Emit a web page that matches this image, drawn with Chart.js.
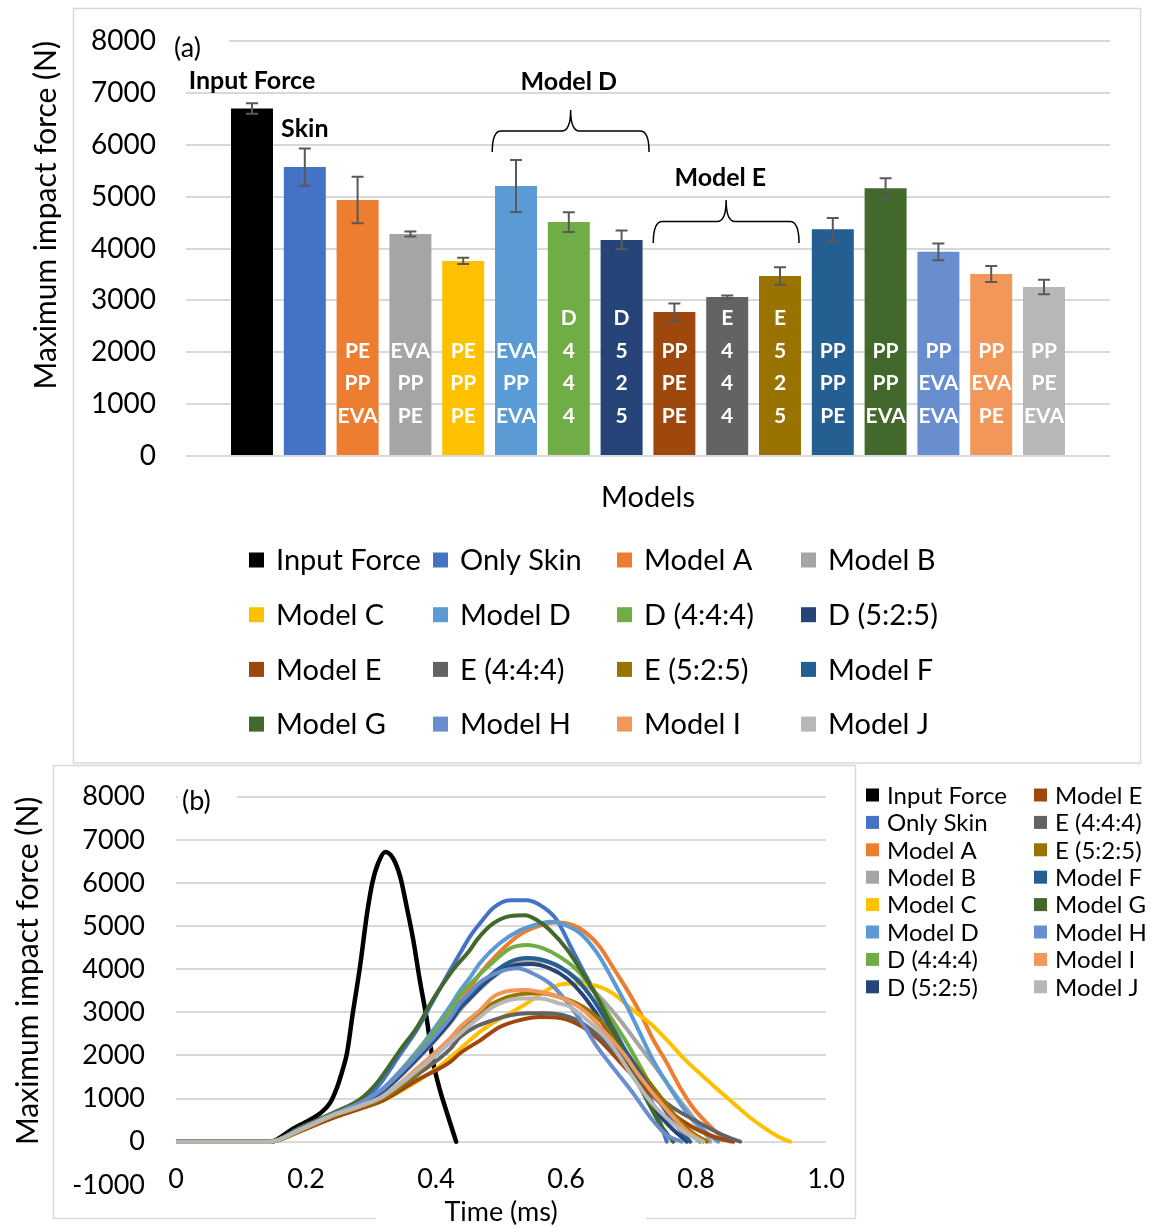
<!DOCTYPE html>
<html>
<head>
<meta charset="utf-8">
<title>Maximum impact force</title>
<script src="https://cdn.jsdelivr.net/npm/chart.js@4.4.1/dist/chart.umd.min.js"></script>
<style>
  html, body { margin: 0; padding: 0; background: #fff; }
  #wrap { position: relative; width: 1156px; height: 1228px; background: #fff; }
  #peak { position: absolute; left: 0; top: 0; }
  #trace { position: absolute; left: 0; top: 764px; }
</style>
</head>
<body>
<div id="wrap">
  <canvas id="peak" width="1156" height="764"></canvas>
  <canvas id="trace" width="1156" height="464"></canvas>
</div>
<script>
// ---------- data ----------
const categories = ['Input Force', 'Only Skin', 'Model A', 'Model B', 'Model C', 'Model D',
  'D (4:4:4)', 'D (5:2:5)', 'Model E', 'E (4:4:4)', 'E (5:2:5)', 'Model F',
  'Model G', 'Model H', 'Model I', 'Model J'];

// peak force (N) and its spread
const peakForce = [6700, 5570, 4935, 4280, 3760, 5205, 4510, 4165, 2775, 3065, 3470, 4370, 5160, 3935, 3510, 3260];
const peakError = [100, 360, 450, 50, 60, 500, 190, 180, 165, 30, 170, 220, 195, 160, 155, 140];

// layer stacks written inside each bar (top line first)
const layerLabels = [[], [], ['PE', 'PP', 'EVA'], ['EVA', 'PP', 'PE'], ['PE', 'PP', 'PE'], ['EVA', 'PP', 'EVA'],
  ['D', '4', '4', '4'], ['D', '5', '2', '5'], ['PP', 'PE', 'PE'], ['E', '4', '4', '4'], ['E', '5', '2', '5'],
  ['PP', 'PP', 'PE'], ['PP', 'PP', 'EVA'], ['PP', 'EVA', 'EVA'], ['PP', 'EVA', 'PE'], ['PP', 'PE', 'EVA']];

const seriesColors = ['#000000', '#4472C4', '#ED7D31', '#A5A5A5', '#FFC000', '#5B9BD5', '#70AD47', '#264478',
  '#9E480E', '#636363', '#997300', '#255E91', '#43682B', '#698ED0', '#F1975A', '#B7B7B7'];

const forceTicksA = [0, 1000, 2000, 3000, 4000, 5000, 6000, 7000, 8000];
const forceTicksB = [-1000, 0, 1000, 2000, 3000, 4000, 5000, 6000, 7000, 8000];
const timeTicks = [0, 0.2, 0.4, 0.6, 0.8, 1.0];
const timeTickLabels = ['0', '0.2', '0.4', '0.6', '0.8', '1.0'];

// force-time histories: [time (ms), force (N)]
const traceInput = [[0,0],[0.145,0],[0.180,300],[0.205,500],[0.222,660],[0.237,900],[0.248,1270],[0.256,1650],[0.263,2050],[0.272,2980],[0.283,4050],[0.294,5300],[0.302,6000],[0.311,6460],[0.322,6720],[0.334,6570],[0.345,6140],[0.355,5440],[0.365,4680],[0.375,3750],[0.386,2820],[0.395,1890],[0.406,1200],[0.417,660],[0.431,0]];
const traceSkin = [[0,0],[0.145,0],[0.191,310],[0.242,640],[0.283,920],[0.309,1250],[0.345,2030],[0.371,2600],[0.395,3250],[0.422,3980],[0.437,4370],[0.452,4750],[0.468,5070],[0.488,5420],[0.514,5600],[0.540,5600],[0.565,5440],[0.586,5140],[0.606,4560],[0.626,3980],[0.648,3360],[0.665,2900],[0.683,2350],[0.703,1730],[0.725,1130],[0.740,660],[0.755,0]];
const traceA = [[0,0],[0.145,0],[0.191,290],[0.242,610],[0.283,860],[0.318,1200],[0.371,2000],[0.422,2900],[0.437,3250],[0.452,3550],[0.468,3900],[0.498,4400],[0.529,4800],[0.560,5010],[0.586,5090],[0.611,5020],[0.632,4830],[0.652,4520],[0.672,4050],[0.694,3520],[0.714,2990],[0.734,2370],[0.755,1830],[0.775,1270],[0.795,800],[0.817,430],[0.837,150],[0.852,0]];
const traceB = [[0,0],[0.145,0],[0.191,280],[0.242,600],[0.283,850],[0.318,1150],[0.371,1900],[0.422,2750],[0.437,3050],[0.452,3300],[0.483,3750],[0.514,4080],[0.549,4200],[0.580,4120],[0.611,3850],[0.632,3620],[0.652,3360],[0.683,2820],[0.714,2200],[0.745,1580],[0.771,1040],[0.795,580],[0.811,270],[0.822,0]];
const traceC = [[0,0],[0.145,0],[0.191,250],[0.242,570],[0.283,770],[0.318,950],[0.371,1400],[0.406,1750],[0.437,2150],[0.468,2550],[0.498,2850],[0.514,2980],[0.540,3210],[0.580,3590],[0.606,3670],[0.630,3650],[0.652,3590],[0.672,3440],[0.703,3050],[0.729,2750],[0.755,2360],[0.780,1950],[0.806,1580],[0.832,1230],[0.857,900],[0.883,560],[0.909,280],[0.929,100],[0.945,0]];
const traceD = [[0,0],[0.145,0],[0.191,290],[0.242,630],[0.283,890],[0.318,1230],[0.371,2100],[0.422,3150],[0.437,3500],[0.452,3800],[0.468,4150],[0.498,4600],[0.529,4900],[0.560,5060],[0.575,5100],[0.591,5060],[0.622,4830],[0.648,4370],[0.672,3750],[0.694,3130],[0.714,2510],[0.734,1890],[0.755,1360],[0.775,900],[0.795,500],[0.817,200],[0.834,0]];
const traceD444 = [[0,0],[0.145,0],[0.191,290],[0.242,630],[0.283,880],[0.318,1220],[0.371,2050],[0.422,3050],[0.437,3400],[0.452,3650],[0.483,4100],[0.514,4480],[0.540,4560],[0.565,4480],[0.591,4280],[0.617,3980],[0.642,3520],[0.668,2900],[0.694,2280],[0.714,1750],[0.734,1200],[0.755,750],[0.778,350],[0.806,0]];
const traceD525 = [[0,0],[0.145,0],[0.191,280],[0.242,610],[0.283,860],[0.318,1170],[0.371,1930],[0.422,2780],[0.437,3100],[0.452,3330],[0.483,3780],[0.514,4060],[0.545,4120],[0.575,4020],[0.602,3780],[0.626,3400],[0.652,2850],[0.678,2200],[0.703,1550],[0.729,900],[0.760,350],[0.786,0]];
const traceE = [[0,0],[0.145,0],[0.191,240],[0.242,550],[0.283,760],[0.318,950],[0.371,1430],[0.422,1850],[0.437,2050],[0.468,2350],[0.498,2660],[0.529,2820],[0.560,2890],[0.591,2870],[0.626,2660],[0.652,2350],[0.683,1850],[0.714,1350],[0.745,900],[0.775,520],[0.806,250],[0.834,80],[0.857,0]];
const traceE444 = [[0,0],[0.145,0],[0.191,270],[0.242,600],[0.283,800],[0.318,1000],[0.371,1550],[0.422,2150],[0.437,2430],[0.488,2820],[0.540,2980],[0.571,2980],[0.617,2820],[0.652,2430],[0.703,1660],[0.755,890],[0.806,430],[0.848,110],[0.868,0]];
const traceE525 = [[0,0],[0.145,0],[0.191,260],[0.242,590],[0.283,800],[0.318,1000],[0.371,1600],[0.422,2350],[0.437,2600],[0.468,3000],[0.488,3210],[0.529,3420],[0.560,3440],[0.591,3350],[0.626,3130],[0.657,2750],[0.683,2250],[0.714,1650],[0.745,1050],[0.771,550],[0.795,200],[0.817,0]];
const traceF = [[0,0],[0.145,0],[0.191,290],[0.242,620],[0.283,870],[0.318,1200],[0.371,1970],[0.422,2850],[0.437,3150],[0.452,3380],[0.483,3850],[0.514,4170],[0.540,4260],[0.560,4230],[0.591,4050],[0.617,3750],[0.642,3290],[0.660,2850],[0.688,2200],[0.714,1580],[0.745,900],[0.771,350],[0.791,0]];
const traceG = [[0,0],[0.145,0],[0.191,330],[0.242,670],[0.283,980],[0.309,1360],[0.345,2130],[0.371,2660],[0.395,3290],[0.426,3980],[0.452,4440],[0.463,4680],[0.488,5060],[0.514,5230],[0.537,5250],[0.555,5140],[0.575,4910],[0.602,4450],[0.626,3900],[0.648,3350],[0.663,2900],[0.683,2250],[0.703,1600],[0.725,950],[0.745,400],[0.765,0]];
const traceH = [[0,0],[0.145,0],[0.191,300],[0.242,640],[0.283,900],[0.318,1220],[0.371,2000],[0.422,2880],[0.437,3220],[0.452,3450],[0.468,3700],[0.498,3940],[0.525,4020],[0.549,3900],[0.575,3670],[0.595,3360],[0.622,2820],[0.648,2200],[0.668,1800],[0.703,1130],[0.729,580],[0.755,150],[0.778,0]];
const traceI = [[0,0],[0.145,0],[0.191,270],[0.242,610],[0.283,820],[0.318,1050],[0.371,1700],[0.422,2400],[0.437,2660],[0.468,3050],[0.488,3360],[0.514,3500],[0.540,3520],[0.560,3470],[0.591,3350],[0.626,3060],[0.657,2590],[0.688,2050],[0.714,1500],[0.755,740],[0.786,250],[0.811,0]];
const traceJ = [[0,0],[0.145,0],[0.191,280],[0.242,620],[0.283,830],[0.318,1050],[0.371,1650],[0.422,2300],[0.437,2510],[0.468,2900],[0.488,3130],[0.529,3320],[0.560,3320],[0.591,3200],[0.606,3130],[0.630,2850],[0.652,2550],[0.672,2200],[0.703,1500],[0.729,950],[0.755,550],[0.786,180],[0.811,0]];

const traces = [traceInput, traceSkin, traceA, traceB, traceC, traceD, traceD444, traceD525,
  traceE, traceE444, traceE525, traceF, traceG, traceH, traceI, traceJ];

// ---------- shared styling ----------
const FONT = "Lato, 'Open Sans', sans-serif";
Chart.defaults.font.family = FONT;
Chart.defaults.color = '#000';
const GRID = '#d9d9d9';

// keep the plot area exactly where the layout padding puts it
function fixSize(prop, size) {
  return s => {
    s[prop] = size;
    s.paddingTop = 0; s.paddingBottom = 0; s.paddingLeft = 0; s.paddingRight = 0;
  };
}

// callouts above the bars, anchored in data units (bar index, force)
const peakNotes = [
  { text: 'Input Force', at: 0, force: 7230 },
  { text: 'Skin', at: 1, force: 6300 },
  { text: 'Model D', at: 6, force: 7210 },
  { text: 'Model E', at: 8.87, force: 5360 }
];
const peakBraces = [
  { from: 4.55, to: 7.52, tip: 6670, end: 5860 },
  { from: 7.6, to: 10.36, tip: 4935, end: 4106 }
];

function drawBrace(ctx, x0, x1, yTip, yEnd) {
  const xm = (x0 + x1) / 2, ym = (yTip + yEnd) / 2, r = 9;
  ctx.beginPath();
  ctx.moveTo(x0, yEnd);
  ctx.quadraticCurveTo(x0, ym, x0 + r, ym);
  ctx.lineTo(xm - r, ym);
  ctx.quadraticCurveTo(xm, ym, xm, yTip);
  ctx.quadraticCurveTo(xm, ym, xm + r, ym);
  ctx.lineTo(x1 - r, ym);
  ctx.quadraticCurveTo(x1, ym, x1, yEnd);
  ctx.stroke();
}

function drawSwatchLegend(ctx, opts) {
  ctx.save();
  ctx.font = opts.size + 'px ' + FONT;
  ctx.textAlign = 'left';
  ctx.textBaseline = 'middle';
  categories.forEach((name, i) => {
    const col = opts.byColumn ? Math.floor(i / opts.rows) : i % opts.cols;
    const row = opts.byColumn ? i % opts.rows : Math.floor(i / opts.cols);
    const x = opts.colX[col];
    const y = opts.y0 + row * opts.dy;
    ctx.fillStyle = seriesColors[i];
    ctx.fillRect(x, y - opts.box / 2, opts.box, opts.box);
    ctx.fillStyle = '#000';
    ctx.fillText(name, x + opts.box + opts.gap, y + 1);
  });
  ctx.restore();
}

// ---------- (a) peak force bars ----------
const peakDecor = {
  id: 'peakDecor',
  beforeDraw(chart) {
    const ctx = chart.ctx;
    ctx.save();
    ctx.fillStyle = '#fff';
    ctx.fillRect(0, 0, chart.width, chart.height);
    ctx.strokeStyle = GRID;
    ctx.lineWidth = 1.5;
    ctx.strokeRect(73.5, 8.5, 1067, 754.5);
    ctx.restore();
  },
  afterDatasetsDraw(chart) {
    const { ctx, scales: { x, y } } = chart;
    const bars = chart.getDatasetMeta(0).data;
    const base = y.getPixelForValue(0);
    ctx.save();

    // error bars
    ctx.strokeStyle = '#595959';
    ctx.lineWidth = 2;
    bars.forEach((bar, i) => {
      const top = y.getPixelForValue(peakForce[i] + peakError[i]);
      const bot = y.getPixelForValue(peakForce[i] - peakError[i]);
      ctx.beginPath();
      ctx.moveTo(bar.x, top); ctx.lineTo(bar.x, bot);
      ctx.moveTo(bar.x - 6, top); ctx.lineTo(bar.x + 6, top);
      ctx.moveTo(bar.x - 6, bot); ctx.lineTo(bar.x + 6, bot);
      ctx.stroke();
    });

    // layer stacks inside the bars
    ctx.fillStyle = '#fff';
    ctx.font = 'bold 21px ' + FONT;
    ctx.textAlign = 'center';
    ctx.textBaseline = 'middle';
    layerLabels.forEach((lines, i) => {
      const n = lines.length;
      lines.forEach((s, k) => ctx.fillText(s, bars[i].x, base - 40 - 32.5 * (n - 1 - k)));
    });

    // callouts and braces
    ctx.fillStyle = '#000';
    ctx.font = 'bold 25px ' + FONT;
    peakNotes.forEach(n => ctx.fillText(n.text, x.getPixelForValue(n.at), y.getPixelForValue(n.force)));
    ctx.strokeStyle = '#000';
    ctx.lineWidth = 1.5;
    peakBraces.forEach(b => drawBrace(ctx, x.getPixelForValue(b.from), x.getPixelForValue(b.to),
      y.getPixelForValue(b.tip), y.getPixelForValue(b.end)));

    // panel tag
    ctx.fillStyle = '#fff';
    ctx.fillRect(170, 30, 59, 32);
    ctx.fillStyle = '#000';
    ctx.font = '27px ' + FONT;
    ctx.textAlign = 'left';
    ctx.fillText('(a)', 174, 48);
    ctx.restore();

    drawSwatchLegend(ctx, { size: 29, cols: 4, rows: 4, byColumn: false,
      colX: [249, 433, 617, 801], y0: 560, dy: 54.7, box: 15, gap: 12 });
  }
};

new Chart(document.getElementById('peak'), {
  type: 'bar',
  data: {
    datasets: [{
      label: 'Maximum impact force',
      data: peakForce.map((v, i) => ({ x: i, y: v })),
      backgroundColor: seriesColors,
      borderWidth: 0,
      barPercentage: 0.795,
      categoryPercentage: 1
    }]
  },
  options: {
    responsive: false,
    animation: false,
    devicePixelRatio: 1,
    layout: { autoPadding: false, padding: { left: 28, top: 41, right: 46, bottom: 249.2 } },
    plugins: { legend: { display: false }, tooltip: { enabled: false } },
    scales: {
      x: {
        type: 'linear', min: -1.25, max: 16.25, offset: false,
        grid: { display: false, offset: false }, border: { display: false },
        ticks: { display: false },
        title: { display: true, text: 'Models', font: { size: 29 }, padding: 0, color: '#000' },
        afterFit: fixSize('height', 58.8)
      },
      y: {
        min: 0, max: 8000,
        afterBuildTicks: s => { s.ticks = forceTicksA.map(v => ({ value: v })); },
        ticks: { padding: 30, font: { size: 28 }, color: '#000', callback: v => String(v) },
        grid: { color: GRID, lineWidth: 2, drawTicks: false },
        border: { display: false },
        title: { display: true, text: 'Maximum impact force (N)', align: 'end', font: { size: 30 }, padding: 0, color: '#000' },
        afterFit: fixSize('width', 158)
      }
    }
  },
  plugins: [peakDecor]
});

// ---------- (b) force-time histories ----------
const traceDecor = {
  id: 'traceDecor',
  beforeDraw(chart) {
    const ctx = chart.ctx;
    const area = chart.chartArea;
    ctx.save();
    ctx.fillStyle = '#fff';
    ctx.fillRect(0, 0, chart.width, chart.height);
    ctx.strokeStyle = GRID;
    ctx.lineWidth = 1.5;
    const L = 53.5, T = 1.5, R = 855.5, B = 454.5;
    const mid = (area.left + area.right) / 2;
    ctx.beginPath();
    ctx.moveTo(mid - 125, B); ctx.lineTo(L, B); ctx.lineTo(L, T); ctx.lineTo(R, T); ctx.lineTo(R, B); ctx.lineTo(mid + 145, B);
    ctx.stroke();
    ctx.restore();
  },
  afterDraw(chart) {
    const ctx = chart.ctx;
    ctx.save();
    ctx.fillStyle = '#fff';
    ctx.fillRect(178, 20, 59, 34);
    ctx.fillStyle = '#000';
    ctx.font = '27px ' + FONT;
    ctx.textAlign = 'left';
    ctx.textBaseline = 'middle';
    ctx.fillText('(b)', 182, 37);
    ctx.restore();
    drawSwatchLegend(ctx, { size: 24, cols: 2, rows: 8, byColumn: true,
      colX: [866, 1034], y0: 31, dy: 27.4, box: 13, gap: 8 });
  }
};

new Chart(document.getElementById('trace'), {
  type: 'line',
  data: {
    datasets: traces.map((tr, i) => ({
      label: categories[i],
      data: tr.map(([t, f]) => ({ x: t, y: f })),
      borderColor: seriesColors[i],
      backgroundColor: seriesColors[i],
      borderWidth: i === 0 ? 4.5 : 4,
      pointRadius: 0,
      tension: 0.4,
      cubicInterpolationMode: 'monotone',
      borderCapStyle: 'round',
      borderJoinStyle: 'round',
      fill: false,
      order: traces.length - 1 - i
    }))
  },
  options: {
    responsive: false,
    animation: false,
    devicePixelRatio: 1,
    layout: { autoPadding: false, padding: { left: 10, top: 32.7, right: 330, bottom: 0 } },
    plugins: { legend: { display: false }, tooltip: { enabled: false } },
    scales: {
      x: {
        type: 'linear', min: 0, max: 1,
        afterBuildTicks: s => { s.ticks = timeTicks.map(v => ({ value: v })); },
        ticks: { mirror: true, padding: -10.4, font: { size: 27 }, color: '#000', maxRotation: 0, autoSkip: false,
          callback: (v, i) => timeTickLabels[i] },
        grid: { display: false }, border: { display: false },
        title: { display: true, text: 'Time (ms)', font: { size: 27 }, padding: 0, color: '#000' },
        afterFit: fixSize('height', 43.2)
      },
      y: {
        min: -1000, max: 8000,
        afterBuildTicks: s => { s.ticks = forceTicksB.map(v => ({ value: v })); },
        ticks: { padding: 31, font: { size: 27 }, color: '#000', callback: v => String(v) },
        grid: { color: c => (c.tick && c.tick.value < 0) ? 'rgba(0,0,0,0)' : GRID, lineWidth: 2, drawTicks: false },
        border: { display: false },
        title: { display: true, text: 'Maximum impact force (N)', align: 'end', font: { size: 30 }, padding: 0, color: '#000' },
        afterFit: fixSize('width', 166)
      }
    }
  },
  plugins: [traceDecor]
});
</script>
</body>
</html>
